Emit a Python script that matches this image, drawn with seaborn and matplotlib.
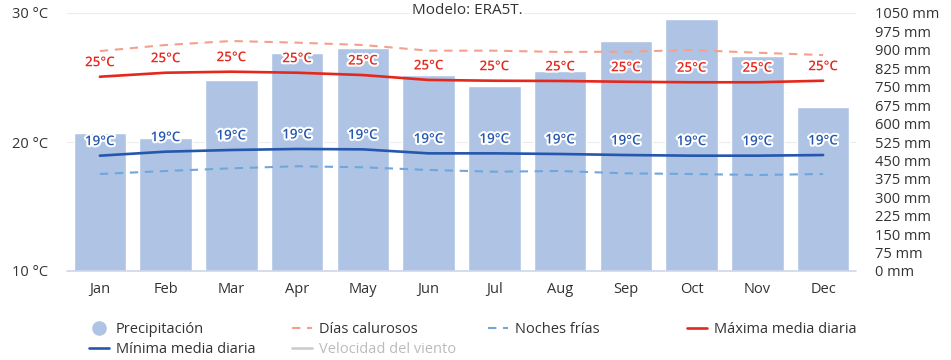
import matplotlib
matplotlib.use("Agg")
import matplotlib.pyplot as plt
import matplotlib.patheffects as pe
from matplotlib.lines import Line2D
import seaborn as sns
import pandas as pd

months = ["Jan", "Feb", "Mar", "Apr", "May", "Jun",
          "Jul", "Aug", "Sep", "Oct", "Nov", "Dec"]
precip_mm = [562, 541, 777, 887, 908, 798, 753, 814, 936, 1026, 875, 667]
max_daily = [25.06, 25.37, 25.45, 25.37, 25.19, 24.81, 24.75, 24.73, 24.67, 24.63, 24.63, 24.75]
min_daily = [18.94, 19.25, 19.38, 19.46, 19.43, 19.12, 19.12, 19.07, 18.99, 18.94, 18.94, 18.99]
hot_days = [27.05, 27.52, 27.83, 27.70, 27.52, 27.08, 27.08, 26.98, 27.00, 27.13, 26.92, 26.74]
cold_nights = [17.52, 17.75, 17.96, 18.12, 18.04, 17.83, 17.70, 17.75, 17.57, 17.52, 17.44, 17.52]

temp_ticks = [10, 20, 30]
mm_ticks = list(range(0, 1051, 75))

df = pd.DataFrame({"month": months, "precip": precip_mm, "tmax": max_daily,
                   "tmin": min_daily, "hot": hot_days, "cold": cold_nights})

sns.set_theme(style="white")
plt.rcParams["font.family"] = ["Open Sans", "DejaVu Sans"]

C_BAR = "#afc4e4"
C_MAX = "#e5281c"
C_MIN = "#2457ad"
C_HOT = "#f5a08c"
C_COLD = "#6fa6dc"
C_TEXT = "#333333"
FS = 10.5

W, H = 951, 360
fig = plt.figure(figsize=(W / 100, H / 100), dpi=100)
ax = fig.add_axes([67 / W, 1 - 271 / H, (856 - 67) / W, (271 - 13) / H])

# precipitation bars on the mm scale (right side)
sns.barplot(data=df, x="month", y="precip", color=C_BAR, saturation=1,
            width=0.8, ax=ax, zorder=2)
ax.set_ylim(0, 1050)
ax.set_xlim(-0.5, 11.5)
ax.set_xlabel("")
ax.set_ylabel("")
for s in ax.spines.values():
    s.set_visible(False)
ax.grid(False)
# horizontal grid behind the bars, aligned with the 20 °C and 30 °C ticks
for frac in (0.5, 1.0):
    ax.axhline(1050 * frac, color="#ececec", lw=0.8, zorder=0)

# temperature scale (left side)
axt = ax.twinx()
axt.set_ylim(10, 30)

ax.yaxis.tick_right()
ax.set_yticks(mm_ticks)
ax.set_yticklabels([f"{v} mm" for v in mm_ticks])
ax.tick_params(axis="y", which="both", left=False, labelleft=False,
               right=False, labelright=True, length=0, pad=13.7,
               labelsize=FS, labelcolor=C_TEXT)
ax.tick_params(axis="x", length=0, pad=8, labelsize=FS, labelcolor=C_TEXT)

axt.yaxis.tick_left()
axt.set_yticks(temp_ticks)
axt.set_yticklabels([f"{v} °C" for v in temp_ticks])
axt.tick_params(axis="y", which="both", right=False, labelright=False,
                left=False, labelleft=True, length=0, pad=13.7,
                labelsize=FS, labelcolor=C_TEXT)
for s in axt.spines.values():
    s.set_visible(False)
axt.axhline(10, color="#ccd6eb", lw=1.2, zorder=1, clip_on=False)

sns.lineplot(data=df, x="month", y="hot", ax=axt, color=C_HOT, lw=1.5,
             linestyle=(0, (4, 3.2)), sort=False)
sns.lineplot(data=df, x="month", y="cold", ax=axt, color=C_COLD, lw=1.5,
             linestyle=(0, (4, 3.2)), sort=False)
sns.lineplot(data=df, x="month", y="tmax", ax=axt, color=C_MAX, lw=1.9, sort=False)
sns.lineplot(data=df, x="month", y="tmin", ax=axt, color=C_MIN, lw=1.9, sort=False)
axt.set_xlabel("")
axt.set_ylabel("")
axt.set_xlim(-0.5, 11.5)

halo = [pe.withStroke(linewidth=3, foreground="white")]
for i, (hi, lo) in enumerate(zip(max_daily, min_daily)):
    axt.annotate(f"{hi:.0f}°C", (i, hi), xytext=(0, 14), textcoords="offset pixels",
                 ha="center", va="center", fontsize=9.7, color=C_MAX,
                 fontweight="semibold", path_effects=halo, zorder=5)
    axt.annotate(f"{lo:.0f}°C", (i, lo), xytext=(0, 14), textcoords="offset pixels",
                 ha="center", va="center", fontsize=9.7, color=C_MIN,
                 fontweight="semibold", path_effects=halo, zorder=5)

fig.text(467 / W, 1 - 10 / H, "Modelo: ERA5T.", ha="center", va="center",
         fontsize=11, color=C_TEXT,
         bbox=dict(facecolor="white", edgecolor="none", pad=1.5))

# legend, four columns
def column(handles, labels, x_px, colors):
    leg = fig.legend(handles, labels, loc="upper left",
                     bbox_to_anchor=(x_px / W, 1 - 322 / H),
                     frameon=False, fontsize=FS, handlelength=1.35,
                     handletextpad=0.5, labelspacing=0.35, borderpad=0,
                     borderaxespad=0)
    for t, c in zip(leg.get_texts(), colors):
        t.set_color(c)
    return leg

h_prec = Line2D([], [], marker="o", ms=9.5, color=C_BAR, lw=0)
h_min = Line2D([], [], color=C_MIN, lw=1.9)
h_hot = Line2D([], [], color=C_HOT, lw=1.5, linestyle=(0, (4, 3.2)))
h_wind = Line2D([], [], color="#cccccc", lw=1.9)
h_cold = Line2D([], [], color=C_COLD, lw=1.5, linestyle=(0, (4, 3.2)))
h_max = Line2D([], [], color=C_MAX, lw=1.9)

column([h_prec, h_min], ["Precipitación", "Mínima media diaria"], 89, [C_TEXT, C_TEXT])
column([h_hot, h_wind], ["Días calurosos", "Velocidad del viento"], 292, [C_TEXT, "#bbbbbb"])
column([h_cold], ["Noches frías"], 488, [C_TEXT])
column([h_max], ["Máxima media diaria"], 687, [C_TEXT])

fig.savefig("out.png", dpi=100, facecolor="white")
